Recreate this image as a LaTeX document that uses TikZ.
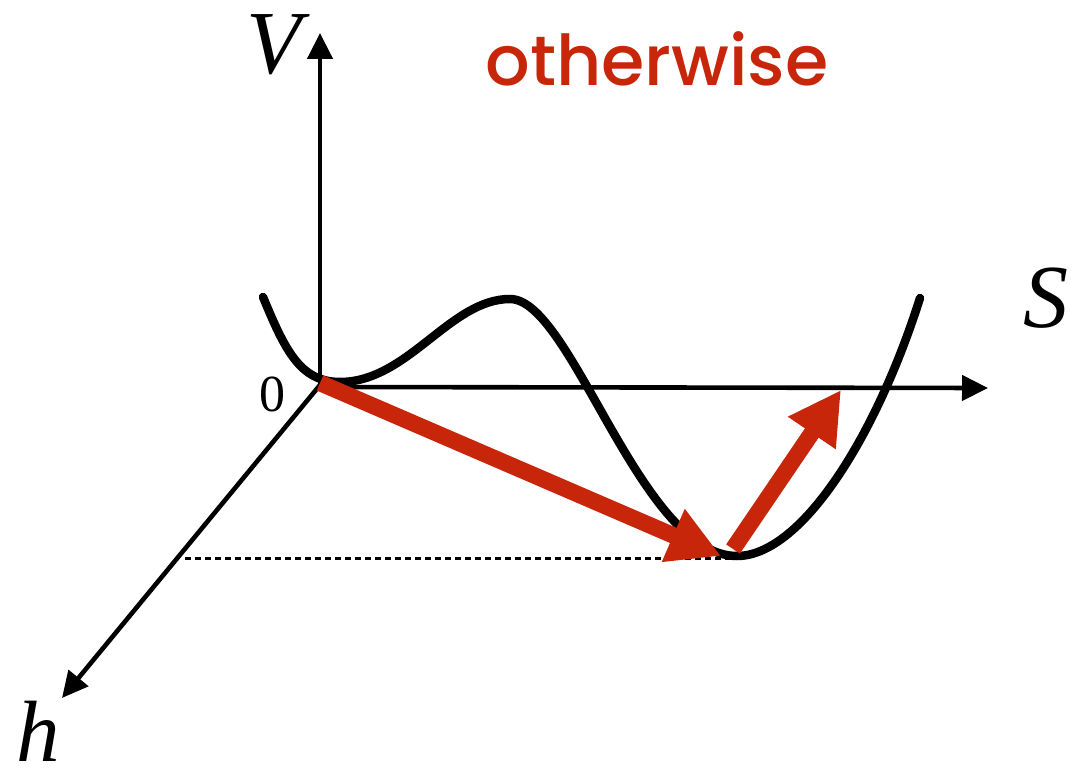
\documentclass[tikz,border=0pt]{standalone}
\usepackage{fontspec}
\setmainfont{Liberation Serif}
\newfontfamily\pop{Poppins Medium}
\usetikzlibrary{arrows.meta}
\definecolor{myred}{RGB}{200,38,10}
\tikzset{
  axis/.style={line width=4.6pt,-{Triangle[length=26pt,width=25pt]}},
  redarrow/.style={line width=16.5pt,myred,-{Triangle[length=52pt,width=54pt]}},
  curve/.style={line width=8.5pt,line cap=round},
  lbl/.style={inner sep=0pt,font=\fontsize{90}{100}\selectfont\itshape}
}
\begin{document}
\begin{tikzpicture}[x=1pt,y=-1pt]
\useasboundingbox (0,0) rectangle (1071,775);
\coordinate (O) at (320,385);
\coordinate (Vend) at (320,33);
\coordinate (Send) at (988,388);
\coordinate (hend) at (62,698);
\coordinate (dotL) at (185,558);
\coordinate (mn) at (737,558);
\coordinate (r1s) at (320,383);
\coordinate (r1e) at (721,556);
\coordinate (r2s) at (733,549);
\coordinate (r2e) at (841,390);
% axes
\draw[axis] (O) -- (Vend);
\draw[axis] (318,387) -- (Send);
\draw[axis] (O) -- (hend);
% dotted line
\draw[line width=3pt,dash pattern=on 6pt off 4pt] (dotL) -- (mn);
% curve
\draw[curve] (263,297) .. controls (285,350) and (300,382) .. (340,382)
  .. controls (408,382) and (450,299) .. (510,299)
  .. controls (572,299) and (640,556) .. (737,556)
  .. controls (800,556) and (875,440) .. (920,298);
% red arrows
\draw[redarrow] (r1s) -- (r1e);
\draw[redarrow] (r2s) -- (r2e);
% labels
\node[lbl] (V) at (274,45) {V};
\node[lbl] (S) at (1046,298) {S};
\node[lbl,font=\fontsize{87}{95}\selectfont\itshape] (h) at (38,731) {h};
\node[inner sep=0pt,font=\fontsize{52}{55}\selectfont] (zero) at (272,394) {0};
\node[inner sep=0pt,anchor=base,text=myred,font=\fontsize{70}{72}\selectfont\pop] (ow) at (657,86) {otherwise};
\end{tikzpicture}
\end{document}
